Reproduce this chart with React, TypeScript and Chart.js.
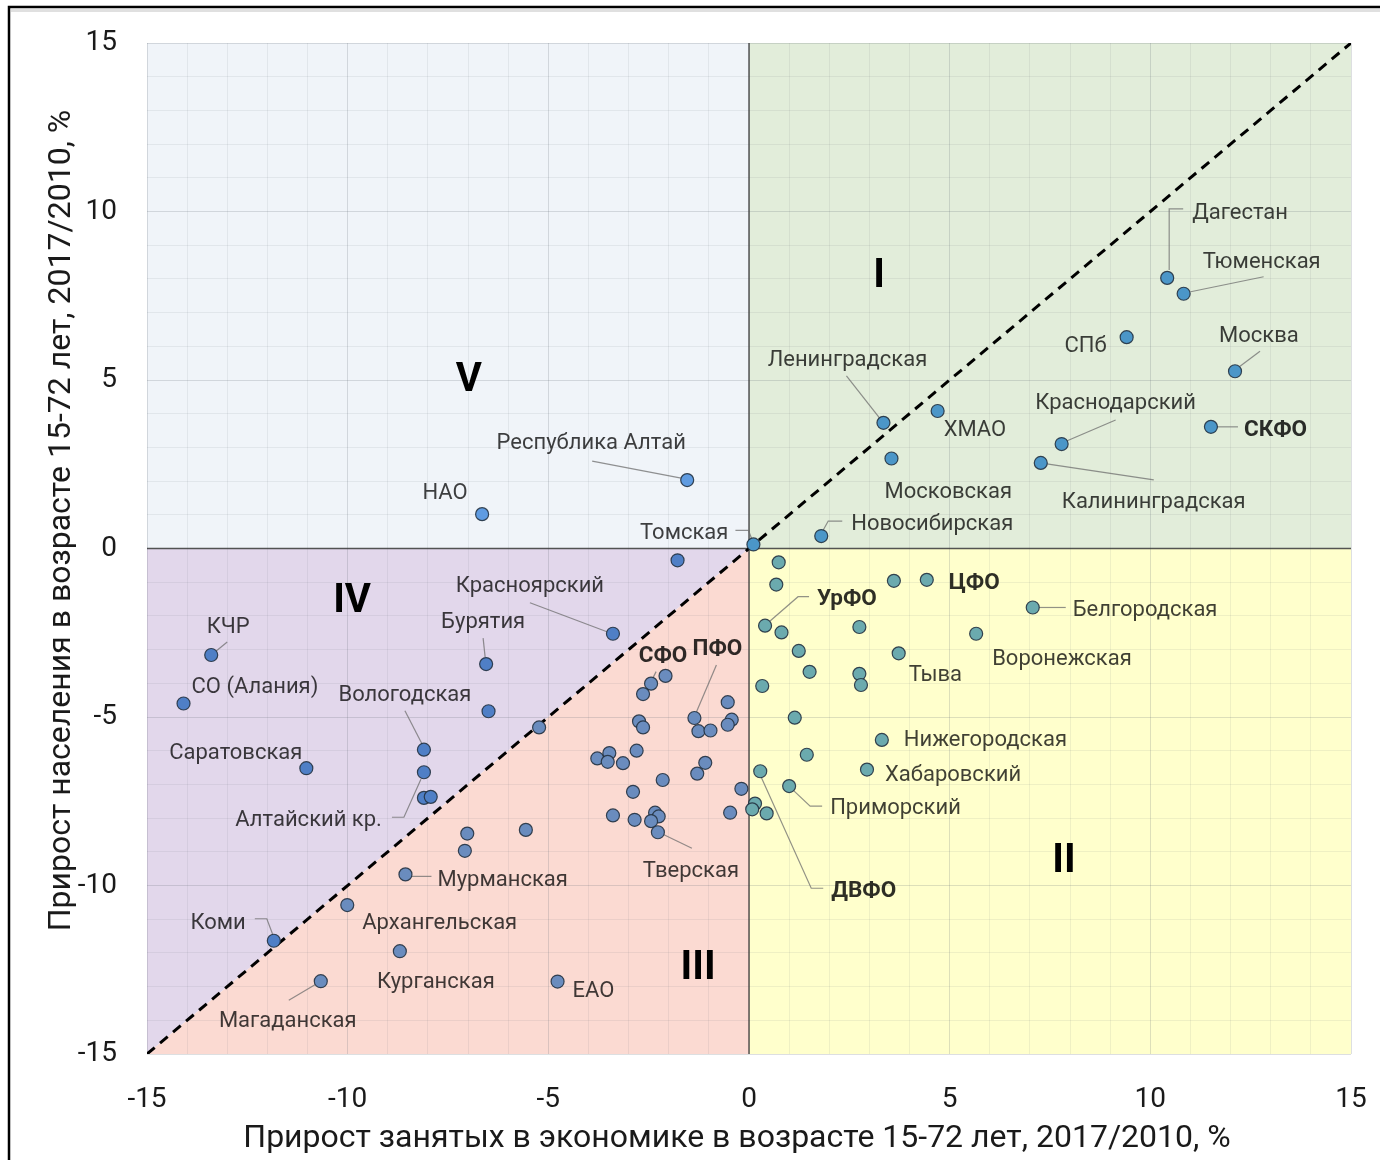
import React, { useEffect, useRef } from 'react';
import { Chart, registerables } from 'chart.js';

Chart.register(...registerables);

// ---------- DATA ----------
const pointNames: string[] = [
  'Дагестан', 'Тюменская', 'СПб', 'Москва', 'Ленинградская', 'ХМАО', 'Краснодарский', 'СКФО',
  'Московская', 'Калининградская', 'Новосибирская', 'Томская',
  'Республика Алтай', 'НАО',
  '', '', '', 'ЦФО', 'Белгородская', 'УрФО', '', '', 'Воронежская', '', 'Тыва', '', '', '', '', '',
  'Нижегородская', '', 'Хабаровский', 'ДВФО', 'Приморский', '', '', '',
  '', 'Красноярский', 'КЧР', 'Бурятия', 'СО (Алания)', '', '', 'Вологодская', 'Саратовская',
  'Алтайский кр.', '', '', '', 'СФО', '', '', 'ПФО', '', '', '', '', '', '', '', '', '', '', '',
  '', '', '', '', '', '', '', '', '', '', '', 'Тверская', '', '', '', 'Мурманская', 'Архангельская',
  'Коми', 'Курганская', 'Магаданская', 'ЕАО',
];

const employmentGrowth: number[] = [
  10.42, 10.83, 9.41, 12.11, 3.35, 4.7, 7.79, 11.51,
  3.55, 7.27, 1.8, 0.11,
  -1.54, -6.65,
  0.74, 0.68, 3.61, 4.43, 7.07, 0.4, 0.81, 2.75, 5.66, 1.24, 3.73, 1.51, 2.75, 2.79, 0.33, 1.14,
  3.31, 1.44, 2.94, 0.28, 1.0, 0.15, 0.08, 0.44,
  -1.78, -3.39, -13.4, -6.55, -14.09, -6.49, -5.23, -8.1, -11.03,
  -8.1, -8.1, -7.93, -2.08, -2.44, -2.64, -0.53, -1.36, -0.43, -0.53, -2.74, -2.64, -1.26, -0.96, -2.8, -3.78, -3.48, -3.52, -3.14,
  -1.09, -1.29, -2.15, -0.19, -2.89, -3.39, -2.85, -2.34, -2.25, -2.44, -0.47, -2.27, -7.02, -7.08, -5.56, -8.56, -10.01,
  -11.84, -8.7, -10.67, -4.77,
];

const populationGrowth: number[] = [
  8.03, 7.56, 6.27, 5.26, 3.73, 4.08, 3.1, 3.61,
  2.67, 2.54, 0.37, 0.12,
  2.03, 1.02,
  -0.41, -1.07, -0.96, -0.93, -1.75, -2.29, -2.49, -2.33, -2.53, -3.04, -3.11, -3.66, -3.72, -4.05, -4.08, -5.02,
  -5.68, -6.12, -6.56, -6.61, -7.05, -7.57, -7.74, -7.86,
  -0.35, -2.53, -3.16, -3.43, -4.6, -4.83, -5.31, -5.97, -6.52,
  -6.64, -7.4, -7.37, -3.78, -4.01, -4.32, -4.56, -5.03, -5.08, -5.23, -5.13, -5.31, -5.42, -5.4, -6.0, -6.23, -6.07, -6.33, -6.37,
  -6.36, -6.68, -6.87, -7.13, -7.22, -7.92, -8.05, -7.84, -7.95, -8.09, -7.84, -8.42, -8.46, -8.97, -8.35, -9.67, -10.58,
  -11.64, -11.95, -12.84, -12.85,
];

const axisMin = -15;
const axisMax = 15;
const labelStep = 5;
const diagonalX = [-15, 15];
const diagonalY = [-15, 15];

const quadrantNames = ['I', 'II', 'III', 'IV', 'V'];
const quadrantX = [3.24, 7.85, -1.27, -9.89, -6.98];
const quadrantY = [8.18, -9.18, -12.36, -1.47, 5.09];

const xTitle = 'Прирост занятых в экономике в возрасте 15-72 лет, 2017/2010, %';
const yTitle = 'Прирост населения в возрасте 15-72 лет, 2017/2010, %';

// ---------- STYLES ----------
type LabelStyle = { dx: number; dy: number; align: CanvasTextAlign; bold?: boolean; leader?: number[][] };
const labelLayout: Record<string, LabelStyle> = {
  'Дагестан': { dx: 25, dy: -67, align: 'left', leader: [[2, -8], [2, -69], [16, -69]] },
  'Тюменская': { dx: 19, dy: -34, align: 'left', leader: [[7, -2], [80, -17]] },
  'СПб': { dx: -20, dy: 7, align: 'right' },
  'Москва': { dx: -16, dy: -37, align: 'left', leader: [[5, -5], [25, -20]] },
  'Ленинградская': { dx: -36, dy: -65, align: 'center', leader: [[-37, -47], [-4, -5]] },
  'ХМАО': { dx: 6, dy: 17, align: 'left' },
  'Краснодарский': { dx: 54, dy: -43, align: 'center', leader: [[54, -24], [5, -3]] },
  'СКФО': { dx: 33, dy: 1, align: 'left', bold: true, leader: [[6, 0], [27, 0]] },
  'Московская': { dx: -7, dy: 31, align: 'left' },
  'Калининградская': { dx: 21, dy: 37, align: 'left', leader: [[6, 1], [113, 17]] },
  'Новосибирская': { dx: 30, dy: -14, align: 'left', leader: [[2, -6], [7, -15], [21, -15]] },
  'Томская': { dx: -25, dy: -13, align: 'right', leader: [[-18, -14], [-5, -14], [-1, -4]] },
  'Республика Алтай': { dx: -96, dy: -39, align: 'center', leader: [[-95, -19], [-6, -2]] },
  'НАО': { dx: -37, dy: -23, align: 'center' },
  'КЧР': { dx: 17, dy: -30, align: 'center', leader: [[16, -13], [5, -4]] },
  'СО (Алания)': { dx: 8, dy: -19, align: 'left' },
  'Бурятия': { dx: -3, dy: -44, align: 'center', leader: [[-3, -26], [-1, -7]] },
  'Красноярский': { dx: -83, dy: -50, align: 'center', leader: [[-83, -31], [-6, -2]] },
  'Вологодская': { dx: -19, dy: -57, align: 'center', leader: [[-19, -39], [-2, -6]] },
  'Саратовская': { dx: -4, dy: -17, align: 'right' },
  'Алтайский кр.': { dx: -42, dy: 46, align: 'right', leader: [[-32, 45], [-20, 45], [-3, 7]] },
  'СФО': { dx: 12, dy: -30, align: 'center', bold: true, leader: [[5, -12], [2, -6]] },
  'ПФО': { dx: 23, dy: -71, align: 'center', bold: true, leader: [[22, -53], [2, -6]] },
  'Тверская': { dx: 33, dy: 37, align: 'center', leader: [[5, 2], [34, 16]] },
  'Мурманская': { dx: 32, dy: 4, align: 'left', leader: [[6, 2], [26, 2]] },
  'Архангельская': { dx: 15, dy: 16, align: 'left' },
  'Коми': { dx: -28, dy: -20, align: 'right', leader: [[-19, -22], [-7, -22], [-1, -6]] },
  'Курганская': { dx: 36, dy: 29, align: 'center' },
  'Магаданская': { dx: -33, dy: 38, align: 'center', leader: [[-32, 19], [-5, 3]] },
  'ЕАО': { dx: 15, dy: 7, align: 'left' },
  'УрФО': { dx: 52, dy: -29, align: 'left', bold: true, leader: [[3, -3], [33, -29], [44, -29]] },
  'ЦФО': { dx: 22, dy: 1, align: 'left', bold: true },
  'Белгородская': { dx: 40, dy: 1, align: 'left', leader: [[6, 0], [33, 0]] },
  'Воронежская': { dx: 16, dy: 23, align: 'left' },
  'Тыва': { dx: 10, dy: 20, align: 'left' },
  'Нижегородская': { dx: 22, dy: -2, align: 'left' },
  'Хабаровский': { dx: 18, dy: 3, align: 'left' },
  'Приморский': { dx: 41, dy: 20, align: 'left', leader: [[4, 4], [21, 20], [33, 20]] },
  'ДВФО': { dx: 71, dy: 118, align: 'left', bold: true, leader: [[1, 6], [51, 117], [63, 117]] },
};

const FONT = 'Roboto';
const TEXT_SHIFT = 2.5; // vertical baseline correction for labels
const BG = { I: '#E2EDDA', II: '#FFFFCC', III: '#FBDAD2', IV: '#E2D7EB', V: '#F0F4F9' };
const PT = { I: '#4B96C8', II: '#6BAAAE', III: '#6A8CBE', IV: '#4F7FC6', V: '#5F9BE1' };

function pointColor(x: number, y: number) {
  if (x >= 0 && y >= 0) return PT.I;
  if (x >= 0) return PT.II;
  if (y >= 0) return PT.V;
  return y < x ? PT.III : PT.IV;
}

const customPlugin = {
  id: 'custom',
  beforeDraw(chart: any) {
    const { ctx, scales } = chart;
    const X = (v: number) => scales.x.getPixelForValue(v);
    const Y = (v: number) => scales.y.getPixelForValue(v);
    ctx.save();
    ctx.fillStyle = '#ffffff';
    ctx.fillRect(0, 0, chart.width, chart.height);
    const poly = (pts: number[][], color: string) => {
      ctx.beginPath();
      pts.forEach((p, i) => (i ? ctx.lineTo(X(p[0]), Y(p[1])) : ctx.moveTo(X(p[0]), Y(p[1]))));
      ctx.closePath();
      ctx.fillStyle = color;
      ctx.fill();
    };
    poly([[-15, 15], [0, 15], [0, 0], [-15, 0]], BG.V);
    poly([[0, 15], [15, 15], [15, 0], [0, 0]], BG.I);
    poly([[0, 0], [15, 0], [15, -15], [0, -15]], BG.II);
    poly([[-15, 0], [0, 0], [-15, -15]], BG.IV);
    poly([[0, 0], [0, -15], [-15, -15]], BG.III);
    ctx.restore();
  },
  beforeDatasetsDraw(chart: any) {
    const { ctx, scales } = chart;
    const X = (v: number) => scales.x.getPixelForValue(v);
    const Y = (v: number) => scales.y.getPixelForValue(v);
    ctx.save();
    ctx.strokeStyle = 'rgba(60,60,60,0.85)';
    ctx.lineWidth = 1.5;
    ctx.beginPath();
    ctx.moveTo(X(0), Y(15));
    ctx.lineTo(X(0), Y(-15));
    ctx.moveTo(X(-15), Y(0));
    ctx.lineTo(X(15), Y(0));
    ctx.stroke();
    ctx.strokeStyle = 'rgba(110,110,110,0.75)';
    ctx.lineWidth = 1.2;
    pointNames.forEach((name, i) => {
      const s = labelLayout[name];
      if (!name || !s || !s.leader) return;
      const px = X(employmentGrowth[i]);
      const py = Y(populationGrowth[i]);
      ctx.beginPath();
      s.leader.forEach((p, k) => (k ? ctx.lineTo(px + p[0], py + p[1]) : ctx.moveTo(px + p[0], py + p[1])));
      ctx.stroke();
    });
    ctx.restore();
  },
  afterDatasetsDraw(chart: any) {
    const { ctx, scales, chartArea } = chart;
    const X = (v: number) => scales.x.getPixelForValue(v);
    const Y = (v: number) => scales.y.getPixelForValue(v);
    ctx.save();
    ctx.textBaseline = 'middle';
    pointNames.forEach((name, i) => {
      const s = labelLayout[name];
      if (!name || !s) return;
      const px = X(employmentGrowth[i]);
      const py = Y(populationGrowth[i]);
      ctx.font = s.bold ? `bold 22.5px ${FONT}` : `22px ${FONT}`;
      ctx.fillStyle = s.bold ? 'rgba(0,0,0,0.82)' : 'rgba(0,0,0,0.75)';
      ctx.textAlign = s.align;
      ctx.fillText(name, px + s.dx, py + s.dy + TEXT_SHIFT);
    });
    ctx.font = `bold 40px ${FONT}`;
    ctx.fillStyle = '#000';
    ctx.textAlign = 'center';
    quadrantNames.forEach((q, i) => ctx.fillText(q, X(quadrantX[i]), Y(quadrantY[i]) + 4));
    ctx.font = `32px ${FONT}`;
    ctx.fillStyle = '#1a1a1a';
    ctx.textAlign = 'center';
    ctx.fillText(xTitle, (chartArea.left + chartArea.right) / 2 - 12, chartArea.bottom + 85);
    ctx.save();
    ctx.translate(62, (chartArea.top + chartArea.bottom) / 2 - 28);
    ctx.rotate(-Math.PI / 2);
    ctx.fillText(yTitle, 0, 0);
    ctx.restore();
    ctx.strokeStyle = 'rgba(0,0,0,0.12)';
    ctx.lineWidth = 3;
    ctx.beginPath();
    ctx.moveTo(11, 10.5);
    ctx.lineTo(chart.width, 10.5);
    ctx.stroke();
    ctx.strokeStyle = '#000';
    ctx.lineWidth = 2.5;
    ctx.beginPath();
    ctx.moveTo(9, chart.height);
    ctx.lineTo(9, 7);
    ctx.lineTo(chart.width, 7);
    ctx.stroke();
    ctx.restore();
  },
};

function App() {
  const ref = useRef<HTMLCanvasElement | null>(null);
  useEffect(() => {
    if (!ref.current) return;
    const points = employmentGrowth.map((x, i) => ({ x, y: populationGrowth[i] }));
    const diagonal = diagonalX.map((x, i) => ({ x, y: diagonalY[i] }));
    const gridColor = (c: any) =>
      c.tick && Math.abs(c.tick.value % labelStep) < 1e-9 ? 'rgba(100,110,120,0.22)' : 'rgba(100,110,120,0.10)';
    const tickCb = (v: any) => (Math.abs(Number(v) % labelStep) < 1e-9 ? String(v) : '');
    const chart = new Chart(ref.current, {
      type: 'scatter',
      data: {
        datasets: [
          {
            type: 'scatter',
            data: points,
            order: 0,
            pointRadius: 6.5,
            pointHoverRadius: 6.5,
            borderWidth: 1.2,
            borderColor: 'rgba(35,50,65,0.9)',
            backgroundColor: (c: any) => (c.raw ? pointColor(c.raw.x, c.raw.y) : PT.I),
          },
          {
            type: 'line',
            data: diagonal,
            order: 1,
            borderColor: '#000',
            borderWidth: 3,
            borderDash: [10, 7],
            pointRadius: 0,
            fill: false,
          } as any,
        ],
      },
      options: {
        animation: false,
        responsive: false,
        maintainAspectRatio: false,
        layout: { padding: { top: 43, right: 29, left: 0, bottom: 0 } },
        plugins: { legend: { display: false }, tooltip: { enabled: false } },
        scales: {
          x: {
            type: 'linear',
            min: axisMin,
            max: axisMax,
            afterFit: (s: any) => {
              s.height = 106;
              s.paddingLeft = 0;
              s.paddingRight = 0;
            },
            border: { display: false },
            grid: { color: gridColor, lineWidth: 1, drawTicks: false },
            ticks: {
              stepSize: 1,
              autoSkip: false,
              maxRotation: 0,
              padding: 29,
              color: '#1a1a1a',
              font: { family: FONT, size: 28 },
              callback: tickCb,
            },
          },
          y: {
            type: 'linear',
            min: axisMin,
            max: axisMax,
            afterFit: (s: any) => {
              s.width = 147;
              s.paddingTop = 0;
              s.paddingBottom = 0;
            },
            border: { display: false },
            grid: { color: gridColor, lineWidth: 1, drawTicks: false },
            ticks: {
              stepSize: 1,
              autoSkip: false,
              padding: 30,
              color: '#1a1a1a',
              font: { family: FONT, size: 28 },
              callback: tickCb,
            },
          },
        },
      },
      plugins: [customPlugin],
    });
    return () => chart.destroy();
  }, []);
  return (
    <div style={{ position: 'absolute', left: 0, top: 0, width: 1380, height: 1160, background: '#fff' }}>
      <canvas ref={ref} width={1380} height={1160} style={{ width: 1380, height: 1160, display: 'block' }} />
    </div>
  );
}

export default App;
